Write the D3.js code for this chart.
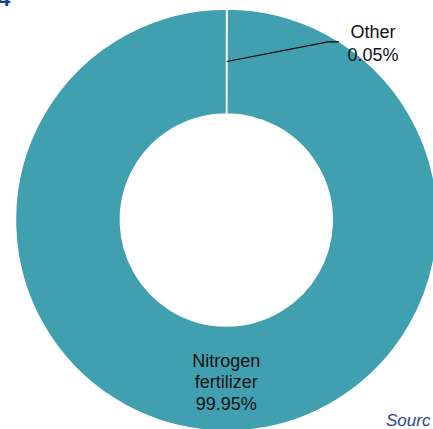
<!DOCTYPE html>
<html>
<head>
<meta charset="utf-8">
<script src="https://cdn.jsdelivr.net/npm/d3@7"></script>
<style>
  html, body { margin: 0; padding: 0; background: #fff; }
  svg { display: block; }
</style>
</head>
<body>
<svg id="chart" width="433" height="429"></svg>
<script>
// ---- data ----
const categories = ["Other", "Nitrogen fertilizer"];
const values = [0.05, 99.95];
const labelLines = [["Other", "0.05%"], ["Nitrogen", "fertilizer", "99.95%"]];
const sliceColors = ["#41A0B0", "#41A0B0"];
const titleText = "4";
const sourceText = "Sourc";

// ---- layout ----
const W = 433, H = 429;
const cx = 226.5, cy = 220;
const outerR = 211, innerR = 106;
const font = "'Liberation Sans', Arial, sans-serif";

const svg = d3.select("#chart");

// partial title (clipped at top)
svg.append("text")
  .attr("x", -2).attr("y", 6)
  .attr("font-family", font).attr("font-size", 22).attr("font-weight", "bold")
  .attr("fill", "#1B3F94")
  .text(titleText);

const data = categories.map((c, i) => ({ cat: c, value: values[i], lines: labelLines[i], color: sliceColors[i] }));

const pie = d3.pie().sort(null).value(d => d.value);
const arcs = pie(data);
const arc = d3.arc().innerRadius(innerR).outerRadius(outerR);

const g = svg.append("g").attr("transform", `translate(${cx},${cy})`);

g.selectAll("path.slice")
  .data(arcs)
  .join("path")
  .attr("class", "slice")
  .attr("d", arc)
  .attr("fill", d => d.data.color)
  .attr("stroke", "#fff")
  .attr("stroke-width", 1.4);

// label for the big slice: inside, at centroid
const big = arcs[1];
const bc = arc.centroid(big);
const lineH = 21.3;
const bigText = g.append("text")
  .attr("font-family", font).attr("font-size", 18).attr("fill", "#111")
  .attr("text-anchor", "middle");
big.data.lines.forEach((t, i) => {
  bigText.append("tspan")
    .attr("x", bc[0])
    .attr("y", bc[1] + 9.8 + (i - 1) * lineH)
    .text(t);
});

// label for the small slice: outside with leader line
const small = arcs[0];
const sc = arc.centroid(small);
const leaderAngle = 0.518; // radians from 12 o'clock
const leaderR = 205;
const bend = [Math.sin(leaderAngle) * leaderR, -Math.cos(leaderAngle) * leaderR];
const end = [bend[0] + 11, bend[1]];
g.append("polyline")
  .attr("points", [sc, bend, end].map(p => p.join(",")).join(" "))
  .attr("fill", "none")
  .attr("stroke", "#000")
  .attr("stroke-width", 1.1);

const smallText = g.append("text")
  .attr("font-family", font).attr("font-size", 18).attr("fill", "#111")
  .attr("text-anchor", "middle");
small.data.lines.forEach((t, i) => {
  smallText.append("tspan")
    .attr("x", end[0] + 34)
    .attr("y", end[1] - 3.8 + i * 22.5)
    .text(t);
});

// truncated source note
svg.append("text")
  .attr("x", 386).attr("y", 426)
  .attr("font-family", font).attr("font-size", 17).attr("font-style", "italic")
  .attr("fill", "#2B3F96")
  .text(sourceText);
</script>
</body>
</html>
